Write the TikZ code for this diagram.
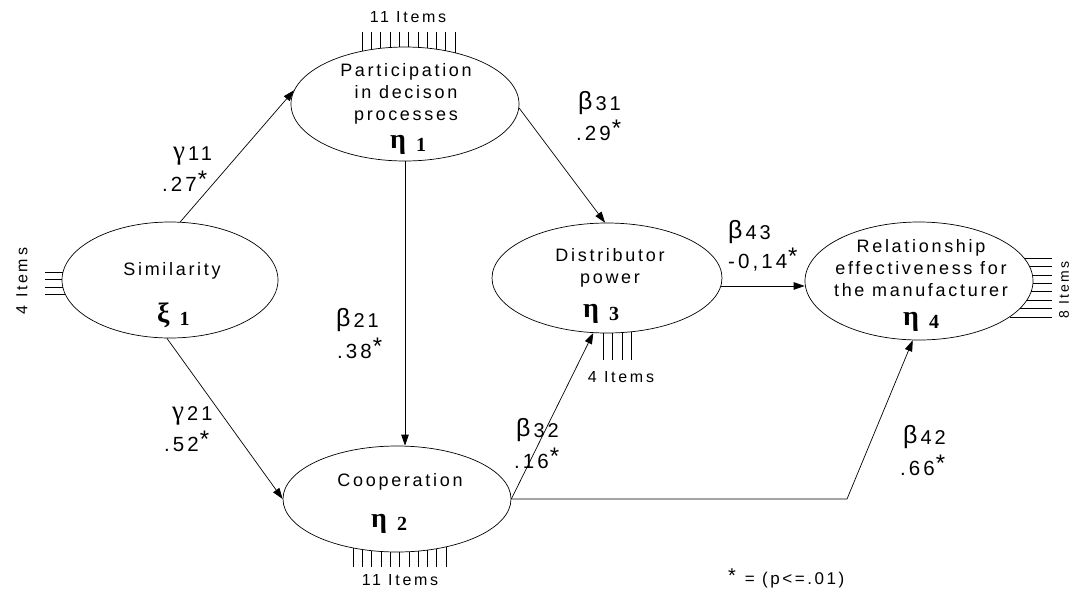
\documentclass[tikz,border=0pt]{standalone}
\usepackage{fontspec}
\setmainfont{Liberation Sans}
\newfontfamily\trk[LetterSpace=15]{Liberation Sans}
\newfontfamily\trkb[LetterSpace=17]{Liberation Sans}
\newfontfamily\grkb{Liberation Serif}
\usetikzlibrary{shapes.geometric,arrows.meta}
\newcommand\cf[2]{{\fontsize{25}{25}\selectfont #1}\hspace{3pt}\raisebox{-1pt}{\trk\fontsize{20}{20}\selectfont #2}}
\newcommand\cfg[2]{{\grkb\fontsize{27}{27}\selectfont #1}\hspace{3pt}\raisebox{-1pt}{\trk\fontsize{20}{20}\selectfont #2}}
\newcommand\val[1]{{\trk\fontsize{20.5}{20.5}\selectfont #1}\hspace{1pt}\smash{\raisebox{4pt}{\fontsize{24}{24}\selectfont *}}}
\newcommand\lv[2]{{\grkb\bfseries\fontsize{28}{28}\selectfont #1}\hspace{10pt}\raisebox{-3pt}{\grkb\bfseries\fontsize{20}{20}\selectfont #2}}
\begin{document}
\begin{tikzpicture}[x=1pt,y=-1pt,
  ell/.style={draw, ellipse, inner sep=0pt, line width=0.7pt},
  arr/.style={line width=0.7pt, -{Triangle[length=11pt,width=7.5pt]}},
  itm/.style={line width=0.6pt},
  txt/.style={font=\trk\fontsize{18}{22}\selectfont, align=center, inner sep=0pt},
  itxt/.style={font=\trkb\fontsize{16}{16}\selectfont, inner sep=0pt},
  lbl/.style={inner sep=0pt, anchor=base west}]
\clip (0,0) rectangle (1072,590);
% ellipses
\node[ell, minimum width=216pt, minimum height=116pt] (sim) at (170,280) {};
\node[ell, minimum width=228pt, minimum height=114pt] (part) at (405,104) {};
\node[ell, minimum width=228pt, minimum height=106pt] (coop) at (397,499) {};
\node[ell, minimum width=230pt, minimum height=110pt] (dist) at (607,278) {};
\node[ell, minimum width=228pt, minimum height=118pt] (rel) at (919,281) {};
% texts in ellipses
\node[txt] (simt) at (172,271) {Similarity};
\node[lbl] (simv) at (157,322) {\lv{ξ}{1}};
\node[txt] (partt) at (406,94) {Participation\\in decison\\processes};
\node[lbl] (partv) at (390,148) {\lv{η}{1}};
\node[txt] (coopt) at (400,482) {Cooperation};
\node[lbl] (coopv) at (371,527) {\lv{η}{2}};
\node[txt] (distt) at (610,268) {Distributor\\power};
\node[lbl] (distv) at (583,317) {\lv{η}{3}};
\node[txt] (relt) at (921,268) {Relationship\\effectiveness for\\the manufacturer};
\node[lbl] (relv) at (903,325) {\lv{η}{4}};
% item indicators
\foreach \i in {0,...,10} {
  \pgfmathsetmacro\xx{362+9.3*\i}
  \pgfmathsetmacro\yy{104-57*sqrt(1-((\xx-405)/114)^2)}
  \draw[itm] (\xx,32) -- (\xx,\yy);
}
\foreach \i in {0,...,10} {
  \pgfmathsetmacro\xx{353+9.3*\i}
  \pgfmathsetmacro\yy{499+53*sqrt(1-((\xx-397)/114)^2)}
  \draw[itm] (\xx,567) -- (\xx,\yy);
}
\foreach \xx in {603,612.5,622,631.5} {
  \pgfmathsetmacro\yy{278+55*sqrt(1-((\xx-607)/115)^2)}
  \draw[itm] (\xx,360) -- (\xx,\yy);
}
\foreach \yy in {272,279.5,287,294.5} {
  \pgfmathsetmacro\xx{170-108*sqrt(1-((\yy-280)/58)^2)}
  \draw[itm] (45,\yy) -- (\xx,\yy);
}
\foreach \i in {0,...,7} {
  \pgfmathsetmacro\yy{258+8.4*\i}
  \pgfmathsetmacro\xx{919+114*sqrt(1-((\yy-281)/59)^2)}
  \draw[itm] (1052,\yy) -- (\xx,\yy);
}
\node[itxt] (i1) at (408,17) {11 Items};
\node[itxt] (i2) at (400,580) {11 Items};
\node[itxt] (i3) at (621,377) {4 Items};
\node[itxt, rotate=90] (i4) at (22,281) {4 Items};
\node[itxt, font=\trkb\fontsize{14}{14}\selectfont, rotate=90] (i5) at (1064,290) {8 Items};
% connectors
\coordinate (bend) at (847,499);
\draw[arr] (sim.80) -- (part.173);
\draw[arr] (sim.267) -- (coop.180);
\draw[arr] (part.south) -- (part.south |- coop.north);
\draw[arr] (part.-2) -- (dist.92);
\draw[arr] (coop.east) -- (dist.256);
\draw[arr] (coop.east) -- (bend) -- (rel.264);
\draw[arr] (dist.-4) -- (rel.west |- dist.-4);
% coefficient labels
\node[lbl] (g11) at (173,159) {\cfg{γ}{11}};
\node[lbl] (v11) at (162,191) {\val{.27}};
\node[lbl] (g21) at (172,419) {\cfg{γ}{21}};
\node[lbl] (v21) at (164,451) {\val{.52}};
\node[lbl] (b21) at (336,326) {\cf{β}{21}};
\node[lbl] (v21b) at (337,358) {\val{.38}};
\node[lbl] (b31) at (578,109) {\cf{β}{31}};
\node[lbl] (v31) at (576,140) {\val{.29}};
\node[lbl] (b43) at (728,238) {\cf{β}{43}};
\node[lbl] (v43) at (728,268) {\val{-0,14}};
\node[lbl] (b32) at (516,436) {\cf{β}{32}};
\node[lbl] (v32) at (514,468) {\val{.16}};
\node[lbl] (b42) at (903,443) {\cf{β}{42}};
\node[lbl] (v42) at (900,475) {\val{.66}};
\node[lbl, font=\trk\fontsize{17}{17}\selectfont] (note) at (728,584) {\smash{\raisebox{2pt}{\fontsize{20}{20}\selectfont *}}\hspace{9pt}= (p<=.01)};
\end{tikzpicture}
\end{document}
